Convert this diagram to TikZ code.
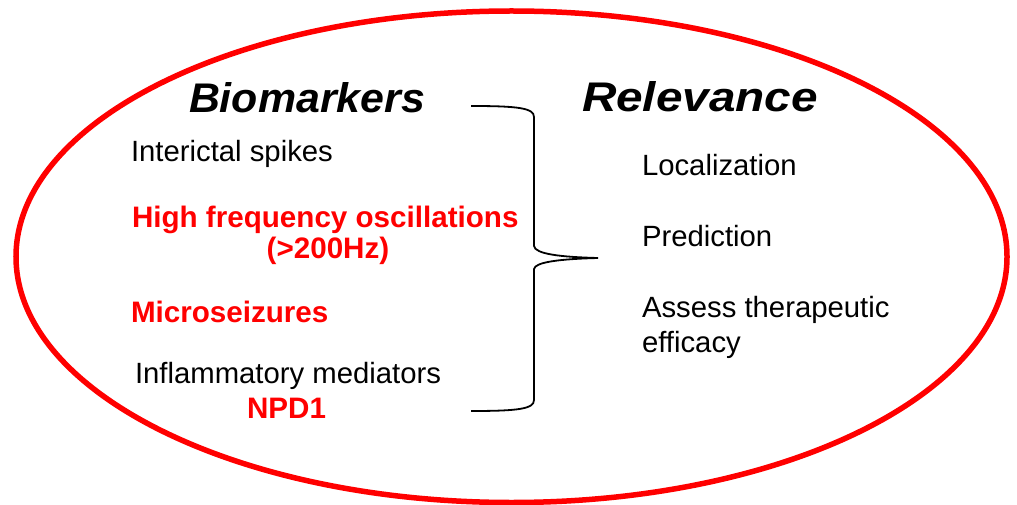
\documentclass[tikz,border=0pt]{standalone}
\usepackage{fontspec}
\setmainfont{Liberation Sans}
\usepackage{graphicx}
\begin{document}
\begin{tikzpicture}[x=1pt,y=-1pt,
  txt/.style={inner sep=0pt,outer sep=0pt,anchor=base west,font=\fontsize{29.3}{34}\selectfont},
  txtc/.style={txt,anchor=base},
  hi/.style={text={rgb,255:red,255;green,0;blue,0},font=\fontsize{29.6}{34}\selectfont\bfseries},
  title/.style={inner sep=0pt,outer sep=0pt,anchor=base west},
  ring/.style={draw={rgb,255:red,255;green,0;blue,0},line width=5.5pt},
  bracket/.style={draw=black,line width=1.8pt}]
\useasboundingbox (0,0) rectangle (1017,505);
\draw[ring] (511.5,256.75) ellipse [x radius=495.5, y radius=245.75];

\node[title] (bio) at (189,112.5) {\resizebox{236pt}{30pt}{\bfseries\itshape Biomarkers}};
\node[title] (rel) at (582,112) {\resizebox{236pt}{30pt}{\bfseries\itshape Relevance}};

\node[txt] (ints) at (131,162) {Interictal spikes};
\node[txt,hi] (hfo) at (132,227) {High frequency oscillations};
\node[txtc,hi] (hfo2) at (328,258) {(>200Hz)};
\node[txt,hi] (micro) at (131,322) {Microseizures};
\node[txt] (infl) at (135,383) {Inflammatory mediators};
\node[txtc,hi] (npd) at (286.5,418) {NPD1};

\node[txt] (loc) at (642,176) {Localization};
\node[txt] (pred) at (642,246) {Prediction};
\node[txt] (ass) at (642,317) {Assess therapeutic};
\node[txt] (eff) at (642,352) {efficacy};

\coordinate (btop) at (471,106);
\coordinate (bbot) at (471,411);
\coordinate (btip) at (598,258);
\draw[bracket] (btop) .. controls (518,106) and (534,108) .. (534,117)
  -- (534,246) .. controls (535,254) and (560,257) .. (btip)
  .. controls (560,259) and (535,262) .. (534,269)
  -- (534,400) .. controls (534,409) and (518,411) .. (bbot);
\end{tikzpicture}
\end{document}
